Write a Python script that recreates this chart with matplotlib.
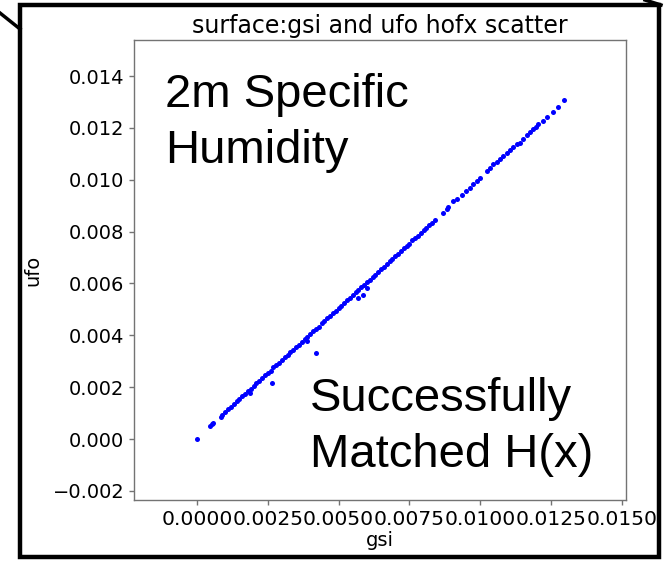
import matplotlib
matplotlib.use("Agg")
import matplotlib.pyplot as plt
from matplotlib.patches import Rectangle
from matplotlib.lines import Line2D

# hofx values: dense part of the diagonal
gsi_dense = [0.00100, 0.00110, 0.00120, 0.00130, 0.00140, 0.00150, 0.00160, 0.00170, 0.00180, 0.00190,
             0.00200, 0.00210, 0.00220, 0.00230, 0.00240, 0.00250, 0.00260, 0.00270, 0.00280, 0.00290,
             0.00300, 0.00310, 0.00320, 0.00330, 0.00340, 0.00350, 0.00360, 0.00370, 0.00380, 0.00390,
             0.00400, 0.00410, 0.00420, 0.00430, 0.00440, 0.00450, 0.00460, 0.00470, 0.00480, 0.00490,
             0.00500, 0.00510, 0.00520, 0.00530, 0.00540, 0.00550, 0.00560, 0.00570, 0.00580, 0.00590,
             0.00600, 0.00610, 0.00620, 0.00630, 0.00640, 0.00650, 0.00660, 0.00670, 0.00680, 0.00690,
             0.00700, 0.00710, 0.00720, 0.00730, 0.00740, 0.00750, 0.00760, 0.00770, 0.00780, 0.00790,
             0.00800, 0.00810, 0.00820, 0.00830, 0.00840]
ufo_dense = [0.00104, 0.00115, 0.00124, 0.00136, 0.00145, 0.00154, 0.00166, 0.00175, 0.00185, 0.00194,
             0.00206, 0.00215, 0.00225, 0.00234, 0.00246, 0.00255, 0.00264, 0.00276, 0.00285, 0.00294,
             0.00306, 0.00315, 0.00324, 0.00336, 0.00345, 0.00355, 0.00364, 0.00376, 0.00385, 0.00394,
             0.00406, 0.00415, 0.00425, 0.00434, 0.00446, 0.00455, 0.00465, 0.00474, 0.00486, 0.00495,
             0.00505, 0.00514, 0.00526, 0.00535, 0.00545, 0.00554, 0.00566, 0.00575, 0.00585, 0.00594,
             0.00606, 0.00615, 0.00625, 0.00634, 0.00646, 0.00655, 0.00665, 0.00674, 0.00686, 0.00695,
             0.00705, 0.00714, 0.00726, 0.00735, 0.00745, 0.00754, 0.00766, 0.00775, 0.00785, 0.00794,
             0.00806, 0.00815, 0.00825, 0.00834, 0.00846]

# sparse upper part
gsi_upper = [0.00867, 0.00881, 0.00887, 0.00905, 0.00917, 0.00935, 0.00950, 0.00964, 0.00975, 0.00987,
             0.01000, 0.01022, 0.01035, 0.01046, 0.01058, 0.01070, 0.01080, 0.01093, 0.01105, 0.01116,
             0.01128, 0.01140, 0.01152, 0.01164, 0.01175, 0.01187, 0.01196, 0.01205, 0.01220, 0.01234,
             0.01258, 0.01275, 0.01295]
ufo_upper = [0.00872, 0.00887, 0.00894, 0.00919, 0.00926, 0.00942, 0.00957, 0.00970, 0.00982, 0.00996,
             0.01008, 0.01035, 0.01044, 0.01060, 0.01069, 0.01080, 0.01091, 0.01105, 0.01116, 0.01127,
             0.01137, 0.01143, 0.01158, 0.01173, 0.01183, 0.01195, 0.01204, 0.01214, 0.01228, 0.01242,
             0.01263, 0.01281, 0.01308]

# low end and off-line points
gsi_other = [0.0, 0.00046, 0.00052, 0.00058, 0.00084, 0.00090, 0.00187, 0.00266, 0.00419,
             0.00569, 0.00585, 0.00599, 0.00387]
ufo_other = [0.0, 0.00050, 0.00057, 0.00062, 0.00086, 0.00094, 0.00178, 0.00218, 0.00330,
             0.00545, 0.00557, 0.00582, 0.00378]

gsi = gsi_dense + gsi_upper + gsi_other
ufo = ufo_dense + ufo_upper + ufo_other

fig = plt.figure(figsize=(6.67, 5.62), dpi=100)
ax = fig.add_axes([134 / 667, 62 / 562, 492 / 667, 460 / 562])

ax.scatter(gsi, ufo, s=13, c='b', linewidths=0)

ax.set_xlim(-0.00222, 0.01514)
ax.set_ylim(-0.00235, 0.01539)
ax.set_xticks([0.0, 0.0025, 0.005, 0.0075, 0.01, 0.0125, 0.015])
ax.set_yticks([-0.002, 0.0, 0.002, 0.004, 0.006, 0.008, 0.010, 0.012, 0.014])
ax.set_xticklabels(['0.0000', '0.0025', '0.0050', '0.0075', '0.0100', '0.0125', '0.0150'])
ax.set_yticklabels(['\u22120.002', '0.000', '0.002', '0.004', '0.006', '0.008', '0.010', '0.012', '0.014'])
ax.tick_params(labelsize=14, color='0.45', width=1)
ax.tick_params(axis='x', labelsize=14.6)
for sp in ax.spines.values():
    sp.set_color('0.45')
    sp.set_linewidth(1)

ax.set_title('surface:gsi and ufo hofx scatter', fontsize=17, pad=5)
ax.set_xlabel('gsi', fontsize=14, labelpad=2)
ax.set_ylabel('ufo', fontsize=14, labelpad=7)

# slide overlay text
big = dict(fontsize=34, family='Liberation Sans', color='black', va='baseline', ha='left')
fig.text(165 / 667, 1 - 107 / 562, '2m Specific', **big)
fig.text(165 / 667, 1 - 163 / 562, 'Humidity', **big)
fig.text(310 / 667, 1 - 411 / 562, 'Successfully', **big)
fig.text(310 / 667, 1 - 467 / 562, 'Matched H(x)', **big)

# slide frame and callout lines
W, H = 667, 562
fig.patches.append(Rectangle((20 / W, 1 - 557 / H), 639 / W, 552 / H, transform=fig.transFigure,
                             fill=False, edgecolor='black', linewidth=3.2, zorder=10))
fig.lines.append(Line2D([0, 20 / W], [1 - 13 / H, 1 - 29 / H], transform=fig.transFigure,
                        color='black', linewidth=2.5))
fig.lines.append(Line2D([645 / W, 661 / W], [1.0, 1 - 5 / H], transform=fig.transFigure,
                        color='black', linewidth=2.5))

fig.savefig('out.png', dpi=100)
